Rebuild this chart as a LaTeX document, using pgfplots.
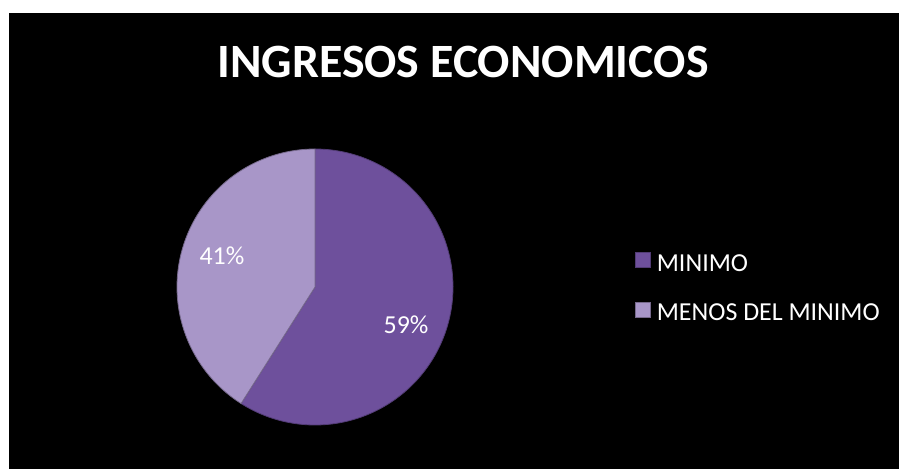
\documentclass[border=0pt]{standalone}
\usepackage{fontspec}
\setmainfont{Carlito}
\usepackage{pgfplots}
\pgfplotsset{compat=1.18}
\usepackage{pgfplotstable}
\definecolor{cmin}{RGB}{110,80,156}
\definecolor{cmenos}{RGB}{168,150,200}
\pgfplotstableread{
label value
MINIMO 59
MENOS 41
}\piedata
\begin{document}
\begin{tikzpicture}[x=1bp,y=1bp]
\fill[white] (0,0) rectangle (899,-469);
\useasboundingbox (0,0) rectangle (899,-469);
\fill[black] (9,-13) rectangle (899,-469);
\node[anchor=base, text=white, font=\fontsize{48}{52}\selectfont\bfseries] at (463,-78) {INGRESOS ECONOMICOS};
\begin{axis}[
  at={(315bp,-287bp)}, anchor=center,
  scale only axis, width=276bp, height=276bp,
  xmin=-1, xmax=1, ymin=-1, ymax=1,
  hide axis, clip=false,
  legend cell align=left,
  legend image code/.code={\fill[#1] (0bp,-4bp) rectangle (15bp,11bp);},
  legend style={draw=none, fill=none, text=white,
    font=\fontsize{26}{30}\selectfont,
    at={(rel axis cs:1.648,0.634)}, anchor=north west,
    row sep=29bp, nodes={inner sep=0pt},
    /tikz/every odd column/.append style={column sep=6bp}},
]
\addplot[fill=cmin, draw=cmin!75!black, line width=0.8bp, domain={90-3.6*59}:90, samples=150, variable=\t]
  ({cos(\t)},{sin(\t)}) -- (axis cs:0,0) -- cycle;
\addlegendentry{MINIMO}
\addplot[fill=cmenos, draw=cmenos!70!black, line width=0.8bp, domain=90:{90+3.6*41}, samples=120, variable=\t]
  ({cos(\t)},{sin(\t)}) -- (axis cs:0,0) -- cycle;
\addlegendentry{MENOS DEL MINIMO}
\node[text=white, font=\fontsize{26}{30}\selectfont] at (axis cs:0.66,-0.275) {59\%};
\node[text=white, font=\fontsize{26}{30}\selectfont] at (axis cs:-0.674,0.225) {41\%};
\end{axis}
\end{tikzpicture}
\end{document}
